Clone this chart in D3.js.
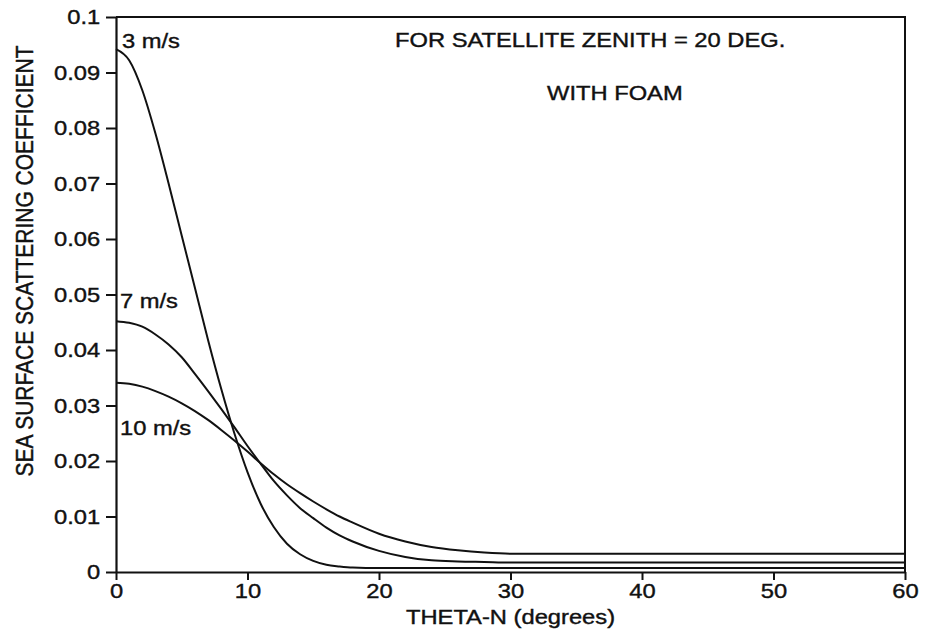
<!DOCTYPE html>
<html>
<head>
<meta charset="utf-8">
<script src="https://cdn.jsdelivr.net/npm/d3@7"></script>
<style>
  body { margin: 0; background: #fff; }
  svg { display: block; }
  text { font-family: "Liberation Sans", Arial, Helvetica, sans-serif; fill: #111; stroke: #111; stroke-width: 0.4px; }
</style>
</head>
<body>
<script>
const width = 925;
const height = 634;

// plot box
const plotLeft = 116, plotRight = 905, plotTop = 17, plotBottom = 572;

// the scan is a bit wider than tall, stretch text to match
const sx = 1.13;
const fontSize = 21;

const theta = [0, 1, 2, 3, 4, 5, 6, 7, 8, 9, 10, 11, 12, 13, 14, 15, 16, 17, 18, 20, 22, 24, 26, 28, 30, 35, 40, 50, 60];

const wind3 = [0.0942, 0.0922, 0.0868, 0.0790, 0.0700, 0.0606, 0.0512, 0.0418, 0.0330, 0.0250, 0.0180, 0.0123, 0.0081, 0.0051, 0.0032, 0.0020, 0.0013, 0.0010, 0.0008, 0.0007, 0.0007, 0.0007, 0.0007, 0.0007, 0.0007, 0.0007, 0.0007, 0.0007, 0.0007];
const wind7 = [0.0452, 0.0449, 0.0442, 0.0428, 0.0410, 0.0387, 0.0357, 0.0326, 0.0294, 0.0261, 0.0227, 0.0195, 0.0164, 0.0138, 0.0115, 0.0097, 0.0080, 0.0066, 0.0055, 0.0038, 0.0027, 0.0021, 0.0019, 0.0018, 0.0017, 0.0017, 0.0017, 0.0017, 0.0017];
const wind10 = [0.0341, 0.0339, 0.0334, 0.0326, 0.0316, 0.0304, 0.0290, 0.0274, 0.0256, 0.0237, 0.0217, 0.0196, 0.0176, 0.0158, 0.0142, 0.0127, 0.0113, 0.0100, 0.0089, 0.0069, 0.0055, 0.0045, 0.0039, 0.0035, 0.0033, 0.0033, 0.0033, 0.0033, 0.0033];

const seriesNames = ["3 m/s", "7 m/s", "10 m/s"];
const seriesValues = [wind3, wind7, wind10];

const xTicks = [0, 10, 20, 30, 40, 50, 60];
const yTicks = [0, 0.01, 0.02, 0.03, 0.04, 0.05, 0.06, 0.07, 0.08, 0.09, 0.1];
const yTickLabels = ["0", "0.01", "0.02", "0.03", "0.04", "0.05", "0.06", "0.07", "0.08", "0.09", "0.1"];

const xTitle = "THETA-N (degrees)";
const yTitle = "SEA SURFACE SCATTERING COEFFICIENT";
const notes = ["FOR SATELLITE ZENITH = 20 DEG.", "WITH FOAM"];

const svg = d3.select("body")
  .append("svg")
  .attr("width", width)
  .attr("height", height);

svg.append("rect").attr("width", width).attr("height", height).attr("fill", "#fff");

const xScale = d3.scaleLinear().domain([0, 60]).range([plotLeft, plotRight]);
const yScale = d3.scaleLinear().domain([0, 0.1]).range([plotBottom, plotTop]);

// frame: top and right sides
svg.append("path")
  .attr("d", `M${plotLeft},${plotTop}H${plotRight}V${plotBottom}`)
  .attr("fill", "none")
  .attr("stroke", "#111")
  .attr("stroke-width", 2);

// y axis
const yAxis = d3.axisLeft(yScale)
  .tickValues(yTicks)
  .tickFormat((d, i) => yTickLabels[i])
  .tickSize(10)
  .tickSizeOuter(0)
  .tickPadding(4);

const gy = svg.append("g")
  .attr("transform", `translate(${plotLeft},0)`)
  .call(yAxis);

// x axis
const xAxis = d3.axisBottom(xScale)
  .tickValues(xTicks)
  .tickFormat(d3.format("d"))
  .tickSize(8)
  .tickSizeOuter(0)
  .tickPadding(3);

const gx = svg.append("g")
  .attr("transform", `translate(0,${plotBottom})`)
  .call(xAxis);

[gx, gy].forEach((g) => {
  g.select(".domain").attr("stroke", "#111").attr("stroke-width", 2.2);
  g.selectAll(".tick line").attr("stroke", "#111").attr("stroke-width", 2);
  g.selectAll(".tick text")
    .attr("font-size", fontSize)
    .attr("fill", "#111")
    .style("font-family", '"Liberation Sans", Arial, sans-serif')
    .attr("transform", `scale(${sx},1)`);
});

// curves
const line = d3.line()
  .x((d) => xScale(d[0]))
  .y((d) => yScale(d[1]))
  .curve(d3.curveMonotoneX);

seriesValues.forEach((vals) => {
  svg.append("path")
    .datum(theta.map((t, i) => [t, vals[i]]))
    .attr("d", line)
    .attr("fill", "none")
    .attr("stroke", "#111")
    .attr("stroke-width", 2);
});

const addText = (str, x, y, anchor, extra) => {
  svg.append("text")
    .attr("transform", `translate(${x},${y}) scale(${sx},1)` + (extra || ""))
    .attr("text-anchor", anchor)
    .attr("font-size", fontSize)
    .text(str);
};

// curve labels
const labelPos = [[122, 48], [120, 308], [120, 435]];
seriesNames.forEach((name, i) => addText(name, labelPos[i][0], labelPos[i][1], "start"));

// notes
addText(notes[0], 395, 47, "start");
addText(notes[1], 547, 100, "start");

// axis titles
addText(xTitle, (plotLeft + plotRight) / 2, 624, "middle");
addText(yTitle, 33, 261, "middle", " rotate(-90)");
</script>
</body>
</html>
